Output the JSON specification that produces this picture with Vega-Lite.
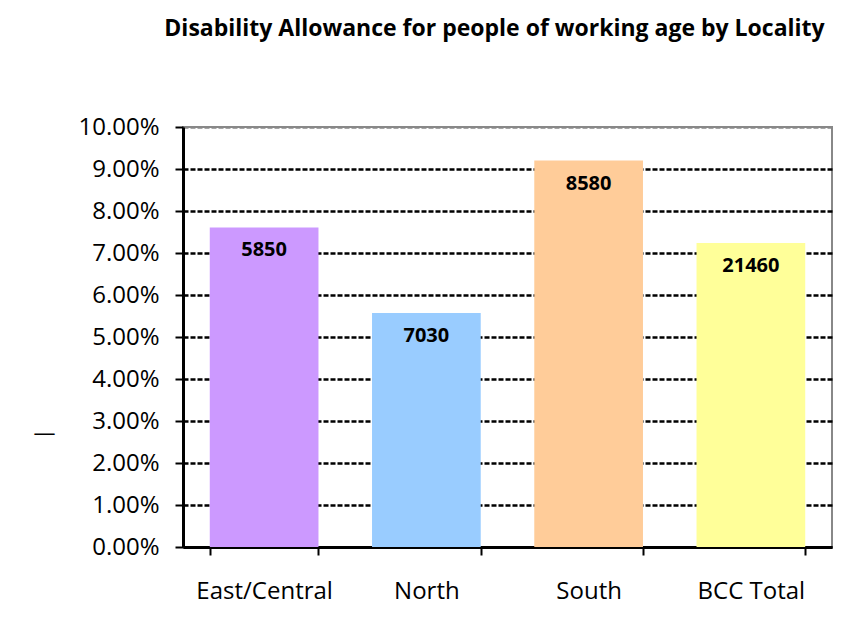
{
  "$schema": "https://vega.github.io/schema/vega-lite/v6.json",
  "width": 649,
  "height": 420,
  "autosize": {"type": "none"},
  "padding": {"left": 183, "top": 127, "right": 10, "bottom": 83},
  "background": "white",
  "title": {
    "text": "Disability Allowance for people of working age by Locality",
    "font": "Open Sans",
    "fontSize": 23,
    "fontWeight": "bold",
    "color": "black",
    "anchor": "middle",
    "offset": 74,
    "dx": -13
  },
  "config": {
    "view": {"stroke": "#888888", "strokeWidth": 2},
    "axis": {"labelFont": "Open Sans", "labelColor": "black", "titleFont": "Open Sans"}
  },
  "data": {
    "values": [
      {"locality": "East/Central", "pct": 0.0761, "count": 5850},
      {"locality": "North", "pct": 0.0557, "count": 7030},
      {"locality": "South", "pct": 0.092, "count": 8580},
      {"locality": "BCC Total", "pct": 0.0724, "count": 21460}
    ]
  },
  "encoding": {
    "x": {
      "field": "locality",
      "type": "nominal",
      "sort": null,
      "scale": {"paddingInner": 0.33, "paddingOuter": 0.165},
      "axis": {
        "title": null,
        "labelAngle": 0,
        "labelFontSize": 24,
        "labelPadding": 24,
        "domainColor": "black",
        "domainWidth": 3,
        "tickBand": "extent",
        "tickColor": "black",
        "tickWidth": 2,
        "tickSize": 8
      }
    },
    "y": {
      "field": "pct",
      "type": "quantitative",
      "scale": {"domain": [0, 0.1], "nice": false},
      "axis": {
        "title": "—",
        "titleAngle": 0,
        "titleFontWeight": "normal",
        "titleFontSize": 22,
        "titleColor": "black",
        "titleX": -139,
        "titleY": 317,
        "format": ".2%",
        "values": [0, 0.01, 0.02, 0.03, 0.04, 0.05, 0.06, 0.07, 0.08, 0.09, 0.1],
        "labelFontSize": 24,
        "labelPadding": 16,
        "domainColor": "black",
        "domainWidth": 3,
        "tickColor": "black",
        "tickWidth": 2,
        "tickSize": 8,
        "grid": true,
        "gridColor": {"condition": {"test": "datum.value >= 0.1", "value": "#888888"}, "value": "black"},
        "gridDash": [5, 2],
        "gridWidth": 2.5
      }
    }
  },
  "layer": [
    {
      "mark": {"type": "bar"},
      "encoding": {
        "color": {
          "field": "locality",
          "type": "nominal",
          "sort": null,
          "scale": {"domain": ["East/Central", "North", "South", "BCC Total"], "range": ["#CC99FF", "#99CCFF", "#FFCC99", "#FFFF99"]},
          "legend": null
        }
      }
    },
    {
      "mark": {"type": "text", "font": "Open Sans", "fontSize": 20, "fontWeight": "bold", "color": "black", "baseline": "middle", "dy": 23},
      "encoding": {"text": {"field": "count", "type": "quantitative", "format": "d"}}
    }
  ]
}
